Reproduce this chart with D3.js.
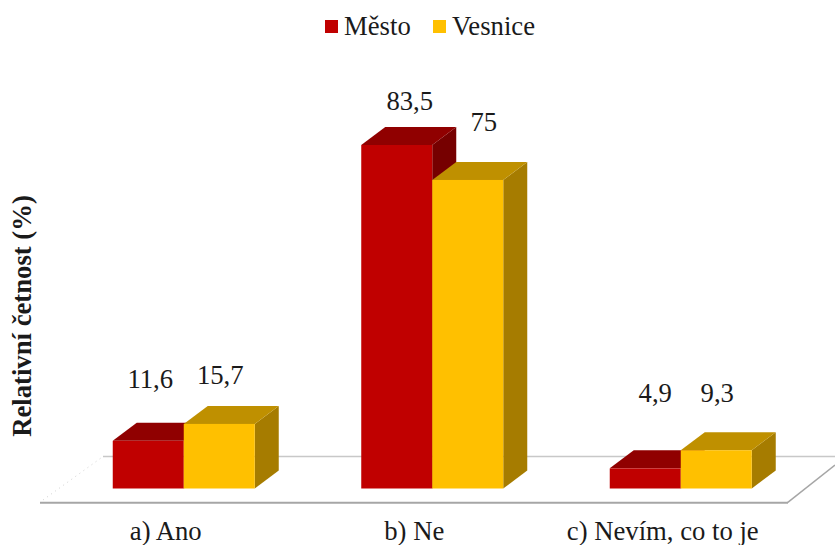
<!DOCTYPE html>
<html>
<head>
<meta charset="utf-8">
<script src="https://cdn.jsdelivr.net/npm/d3@7"></script>
<style>
  html, body { margin: 0; padding: 0; background: #fff; }
  text { font-family: "Liberation Serif", serif; fill: #1a1a1a; }
</style>
</head>
<body>
<script>
// Data
const categories = ["a) Ano", "b) Ne", "c) Nevím, co to je"];
const seriesNames = ["Město", "Vesnice"];
const mesto = [11.6, 83.5, 4.9];
const vesnice = [15.7, 75, 9.3];
const labels = [["11,6", "83,5", "4,9"], ["15,7", "75", "9,3"]];

const faceColors = [
  { front: "#c00000", top: "#900000", side: "#760000" },
  { front: "#ffc000", top: "#bf9000", side: "#a67c00" }
];

const width = 835, height = 545;
const baseY = 488.5;
const depthX = 24, depthY = 18; // 3d offset of the bars
const barW = 71;
const fontSize = "26.7px";

// hand placed data labels in the original, offset from the bar top centre
const labelShift = [
  [[2, -53], [13, -35], [10, -66]],
  [[1, -40], [16, -49], [1, -48]]
];

const svg = d3.select("body").append("svg")
    .attr("width", width)
    .attr("height", height)
    .style("display", "block");

const x0 = d3.scaleBand()
    .domain(categories)
    .range([59.5, 805]);

const x1 = d3.scaleBand()
    .domain([0, 1])
    .range([-barW, barW]);

const y = d3.scaleLinear()
    .domain([0, 83.5])
    .range([baseY, 145]);

const line = d3.line();

// Floor
svg.append("path")
    .attr("d", line([[787.5, 502.7], [835, 465]]))
    .attr("fill", "none")
    .attr("stroke", "#a6a6a6")
    .attr("stroke-width", 1.5);
svg.append("line")
    .attr("x1", 103).attr("x2", 835)
    .attr("y1", 456.5).attr("y2", 456.5)
    .attr("stroke", "#c8c8c8")
    .attr("stroke-width", 1.5);
svg.append("line")
    .attr("x1", 40).attr("x2", 788)
    .attr("y1", 502.7).attr("y2", 502.7)
    .attr("stroke", "#a6a6a6")
    .attr("stroke-width", 2);
svg.append("path")
    .attr("d", line([[43, 500], [103, 456.5]]))
    .attr("fill", "none")
    .attr("stroke", "#d0d0d0")
    .attr("stroke-width", 1)
    .attr("stroke-dasharray", "1 4");

// Bars, back to front so the neighbours overlap like in the original
const series = [mesto, vesnice];
const bars = [];
categories.forEach((c, i) => {
  series.forEach((values, s) => {
    bars.push({ cat: c, i: i, s: s, value: values[i] });
  });
});

const barG = svg.append("g").selectAll("g")
    .data(bars)
    .enter()
    .append("g")
    .attr("transform", d => `translate(${x0(d.cat) + x0.bandwidth() / 2 + x1(d.s)},0)`);

barG.append("path")
    .attr("d", d => line([[barW, y(d.value)], [barW + depthX, y(d.value) - depthY], [barW + depthX, baseY - depthY], [barW, baseY]]) + "Z")
    .attr("fill", d => faceColors[d.s].side);

barG.append("path")
    .attr("d", d => line([[0, y(d.value)], [depthX, y(d.value) - depthY], [barW + depthX, y(d.value) - depthY], [barW, y(d.value)]]) + "Z")
    .attr("fill", d => faceColors[d.s].top);

barG.append("rect")
    .attr("x", 0)
    .attr("y", d => y(d.value))
    .attr("width", barW)
    .attr("height", d => baseY - y(d.value))
    .attr("fill", d => faceColors[d.s].front);

// Data labels
svg.append("g").selectAll("text")
    .data(bars)
    .enter()
    .append("text")
    .attr("x", d => x0(d.cat) + x0.bandwidth() / 2 + x1(d.s) + barW / 2 + labelShift[d.s][d.i][0])
    .attr("y", d => y(d.value) + labelShift[d.s][d.i][1])
    .attr("text-anchor", "middle")
    .style("font-size", fontSize)
    .text(d => labels[d.s][d.i]);

// Category labels
svg.append("g").selectAll("text")
    .data(categories)
    .enter()
    .append("text")
    .attr("x", d => x0(d) + x0.bandwidth() / 2 - 18)
    .attr("y", 540)
    .attr("text-anchor", "middle")
    .style("font-size", fontSize)
    .text(d => d);

// Y title
svg.append("text")
    .attr("transform", "translate(31,316) rotate(-90)")
    .attr("text-anchor", "middle")
    .style("font-size", fontSize)
    .style("font-weight", "bold")
    .text("Relativní četnost (%)");

// Legend
const legendX = [325, 433];
const legend = svg.append("g").selectAll("g")
    .data(seriesNames)
    .enter()
    .append("g")
    .attr("transform", (d, i) => `translate(${legendX[i]},20)`);

legend.append("rect")
    .attr("width", 13)
    .attr("height", 13)
    .attr("fill", (d, i) => faceColors[i].front);

legend.append("text")
    .attr("x", 19)
    .attr("y", 15)
    .style("font-size", fontSize)
    .text(d => d);
</script>
</body>
</html>
